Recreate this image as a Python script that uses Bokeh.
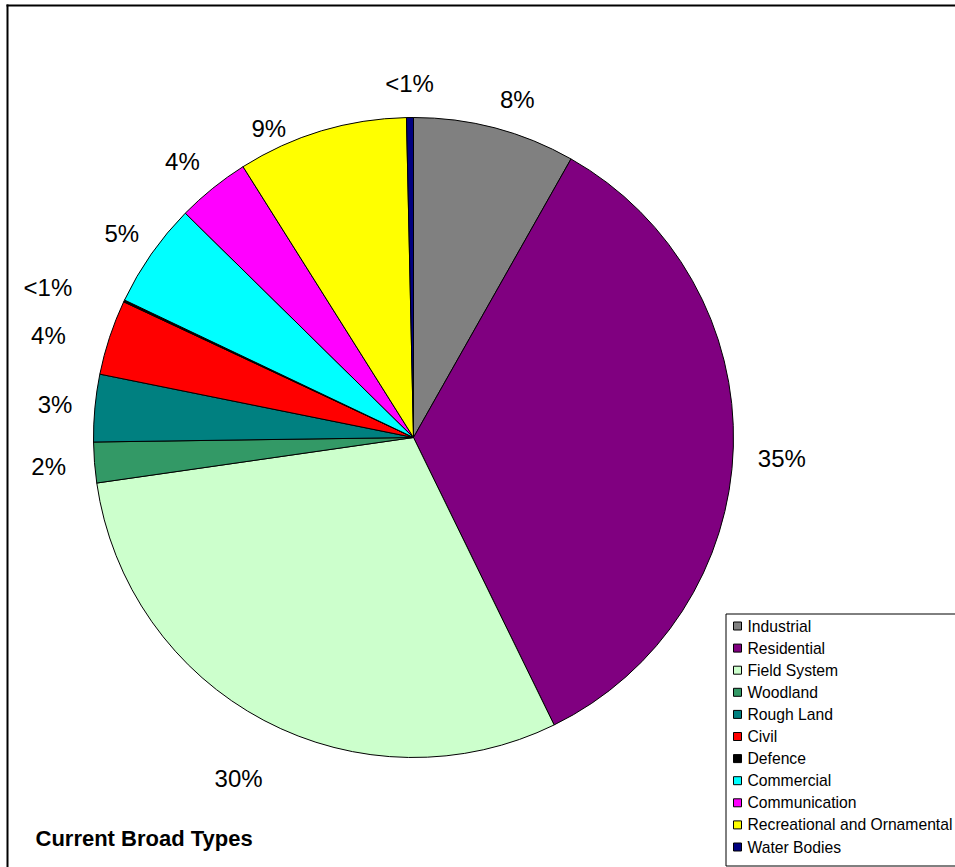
import math
from bokeh.plotting import figure
from bokeh.models import Range1d, ColumnDataSource
from bokeh.embed import file_html
from bokeh.resources import INLINE
from bokeh.core.properties import value

# ---------------- data ----------------
categories = ["Industrial", "Residential", "Field System", "Woodland", "Rough Land",
              "Civil", "Defence", "Commercial", "Communication",
              "Recreational and Ornamental", "Water Bodies"]
shares = [8.2, 34.6, 30.0, 2.05, 3.4, 3.8, 0.1, 5.3, 3.7, 8.6, 0.35]
colors = ["#808080", "#800080", "#CCFFCC", "#339966", "#008080", "#FF0000",
          "#000000", "#00FFFF", "#FF00FF", "#FFFF00", "#000080"]
title_text = "Current Broad Types"

# ---------------- layout ----------------
OX, OY = 0, 0            # screen position of the canvas origin
W, H = 955, 867
CX_S, CY_S, R = 413, 437, 320
LABEL_R = 360
# (angle nudge deg, radius nudge px) mimicking spreadsheet label placement
label_nudge = {0: (2.3, -6), 1: (1.6, 9), 2: (-0.7, 23), 3: (0, 6),
               5: (-2.7, 19), 6: (-3, 35), 7: (0, -4), 8: (-1.1, 0),
               9: (-8.4, -19), 10: (0, -6)}
FONT = "Liberation Sans"


def sx(x):
    return x - OX


def sy(y):
    return H - (y - OY)


total = sum(shares)
starts, ends, mids = [], [], []
acc = 0.0
for v in shares:
    t0 = acc / total * 360.0
    acc += v
    t1 = acc / total * 360.0
    starts.append(t0)
    ends.append(t1)
    mids.append((t0 + t1) / 2)

cx, cy = sx(CX_S), sy(CY_S)

wedge_src = ColumnDataSource(dict(
    start=[math.radians(90 - e) for e in ends],
    end=[math.radians(90 - s) for s in starts],
    color=colors,
    name=categories,
))

labels = []
lx, ly = [], []
for i, (v, m) in enumerate(zip(shares, mids)):
    pct = v / total * 100
    labels.append("<1%" if pct < 1 else f"{pct:.0f}%")
    dt, dr = label_nudge.get(i, (0, 0))
    th = math.radians(m + dt)
    r = LABEL_R + dr
    lx.append(cx + r * math.sin(th))
    ly.append(cy + r * math.cos(th))

p = figure(width=W, height=H, x_range=Range1d(0, W), y_range=Range1d(0, H),
           output_backend="svg", toolbar_location=None, min_border=0,
           outline_line_color=None, background_fill_color="white",
           border_fill_color="white")
p.axis.visible = False
p.grid.visible = False

# frame (top + left visible)
p.segment(x0=[sx(6), sx(7)], y0=[sy(5), sy(4)], x1=[W + 50, sx(7)], y1=[sy(5), -50],
          line_color="black", line_width=2)

p.wedge(x=cx, y=cy, radius=R, start_angle="start", end_angle="end",
        fill_color="color", line_color="black", line_width=1, source=wedge_src)

p.text(x=lx, y=ly, text=labels, text_align="center", text_baseline="middle",
       text_font=value(FONT), text_font_size="24px", text_color="black")

# legend box
LEG_L, LEG_T, LEG_B = 725.5, 613.5, 865.5
p.quad(left=[sx(LEG_L)], right=[W + 50], top=[sy(LEG_T)], bottom=[sy(LEG_B)],
       fill_color="white", line_color="black", line_width=1)
row_y = [sy(625.5 + 22.1 * i) for i in range(len(categories))]
p.rect(x=[sx(737)] * len(categories), y=row_y, width=8, height=8,
       fill_color=colors, line_color="black", line_width=1)
p.text(x=[sx(747)] * len(categories), y=row_y, text=categories,
       text_align="left", text_baseline="middle",
       text_font=value(FONT), text_font_size="15.7px", text_color="black")

# title
p.text(x=[sx(35)], y=[sy(838)], text=[title_text], text_align="left",
       text_baseline="middle", text_font=value(FONT), text_font_size="22px",
       text_font_style="bold", text_color="black")

open("out.html", "w").write(file_html(p, INLINE))
